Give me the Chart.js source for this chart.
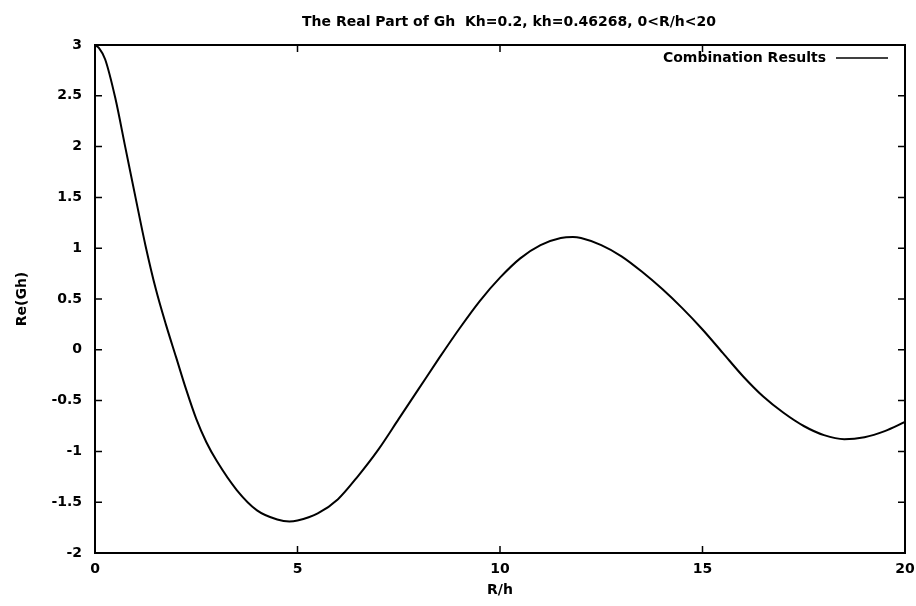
<!DOCTYPE html>
<html>
<head>
<meta charset="utf-8">
<script src="https://cdn.jsdelivr.net/npm/chart.js@4/dist/chart.umd.min.js"></script>
<style>
  html, body { margin: 0; padding: 0; background: #fff; }
  #wrap { width: 916px; height: 606px; }
</style>
</head>
<body>
<div id="wrap"><canvas id="chart" width="916" height="606"></canvas></div>
<script>
// R/h values and Re(Gh)
const rh = [0, 0.1, 0.25, 0.5, 0.75, 1, 1.25, 1.5, 1.75, 2, 2.25, 2.5, 2.75, 3, 3.5, 4, 4.5, 4.8, 5,
  5.5, 6, 6.5, 7, 7.5, 8, 8.5, 9, 9.5, 10, 10.5, 11, 11.5, 11.8, 12, 12.5, 13,
  13.5, 14, 14.5, 15, 15.5, 16, 16.5, 17, 17.5, 18, 18.5, 19, 19.5, 20];
const reGh = [3.0, 2.97, 2.86, 2.48, 1.99, 1.50, 1.02, 0.60, 0.25, -0.07, -0.39, -0.68, -0.91, -1.09, -1.38, -1.58, -1.67, -1.69, -1.68,
  -1.61, -1.47, -1.24, -0.98, -0.68, -0.38, -0.08, 0.21, 0.48, 0.71, 0.90, 1.03, 1.10, 1.11, 1.10, 1.03, 0.92,
  0.77, 0.60, 0.41, 0.20, -0.03, -0.26, -0.46, -0.62, -0.75, -0.84, -0.88, -0.86, -0.80, -0.71];

const seriesName = "Combination Results";
const chartTitle = "The Real Part of Gh  Kh=0.2, kh=0.46268, 0<R/h<20";
const xTitle = "R/h";
const yTitle = "Re(Gh)";

const FONT = "'DejaVu Sans', Arial, sans-serif";

// frame, inward ticks on all four sides, legend and title (gnuplot style)
const gnuplotFrame = {
  id: "gnuplotFrame",
  afterDatasetsDraw(chart) {
    const { ctx, chartArea: { left, top, right, bottom }, scales: { x, y } } = chart;
    ctx.save();
    ctx.strokeStyle = "#000";
    ctx.lineWidth = 2;
    ctx.strokeRect(left, top, right - left, bottom - top);
    ctx.lineWidth = 1.5;
    ctx.beginPath();
    x.ticks.forEach((t) => {
      const px = x.getPixelForValue(t.value);
      ctx.moveTo(px, bottom); ctx.lineTo(px, bottom - 7);
      ctx.moveTo(px, top); ctx.lineTo(px, top + 7);
    });
    y.ticks.forEach((t) => {
      const py = y.getPixelForValue(t.value);
      ctx.moveTo(left, py); ctx.lineTo(left + 7, py);
      ctx.moveTo(right, py); ctx.lineTo(right - 7, py);
    });
    ctx.stroke();

    // legend
    ctx.fillStyle = "#000";
    ctx.font = "bold 14px " + FONT;
    ctx.textAlign = "right";
    ctx.textBaseline = "middle";
    ctx.fillText(seriesName, right - 79, top + 13);
    ctx.lineWidth = 1.5;
    ctx.beginPath();
    ctx.moveTo(right - 69, top + 13);
    ctx.lineTo(right - 17, top + 13);
    ctx.stroke();

    // title
    ctx.font = "bold 14px " + FONT;
    ctx.textAlign = "center";
    ctx.fillText(chartTitle, 509, 22);
    ctx.restore();
  },
};

new Chart(document.getElementById("chart"), {
  type: "line",
  data: {
    datasets: [
      {
        label: seriesName,
        data: rh.map((v, i) => ({ x: v, y: reGh[i] })),
        borderColor: "#000",
        borderWidth: 2,
        pointRadius: 0,
        fill: false,
        cubicInterpolationMode: "monotone",
      },
    ],
  },
  options: {
    responsive: false,
    animation: false,
    layout: { padding: { top: 45, right: 11, left: 0, bottom: 0 } },
    plugins: {
      legend: { display: false },
      tooltip: { enabled: false },
    },
    scales: {
      x: {
        type: "linear",
        min: 0,
        max: 20,
        grid: { display: false, drawTicks: false },
        border: { display: false },
        ticks: { stepSize: 5, padding: 8, color: "#000", font: { family: FONT, size: 14, weight: "bold" }, maxRotation: 0 },
        title: { display: true, text: xTitle, color: "#000", font: { family: FONT, size: 14, weight: "bold" }, padding: { top: 0, bottom: 7 } },
        afterFit: (scale) => { scale.height = 53; scale.paddingLeft = 0; scale.paddingRight = 0; },
      },
      y: {
        min: -2,
        max: 3,
        grid: { display: false, drawTicks: false },
        border: { display: false },
        ticks: {
          stepSize: 0.5, padding: 13, color: "#000", font: { family: FONT, size: 14, weight: "bold" },
          callback: (v) => String(v),
        },
        title: { display: true, text: yTitle, color: "#000", font: { family: FONT, size: 14, weight: "bold" }, padding: { top: 14, bottom: 0 } },
        afterFit: (scale) => { scale.width = 95; scale.paddingTop = 0; scale.paddingBottom = 0; },
      },
    },
  },
  plugins: [gnuplotFrame],
});
</script>
</body>
</html>
